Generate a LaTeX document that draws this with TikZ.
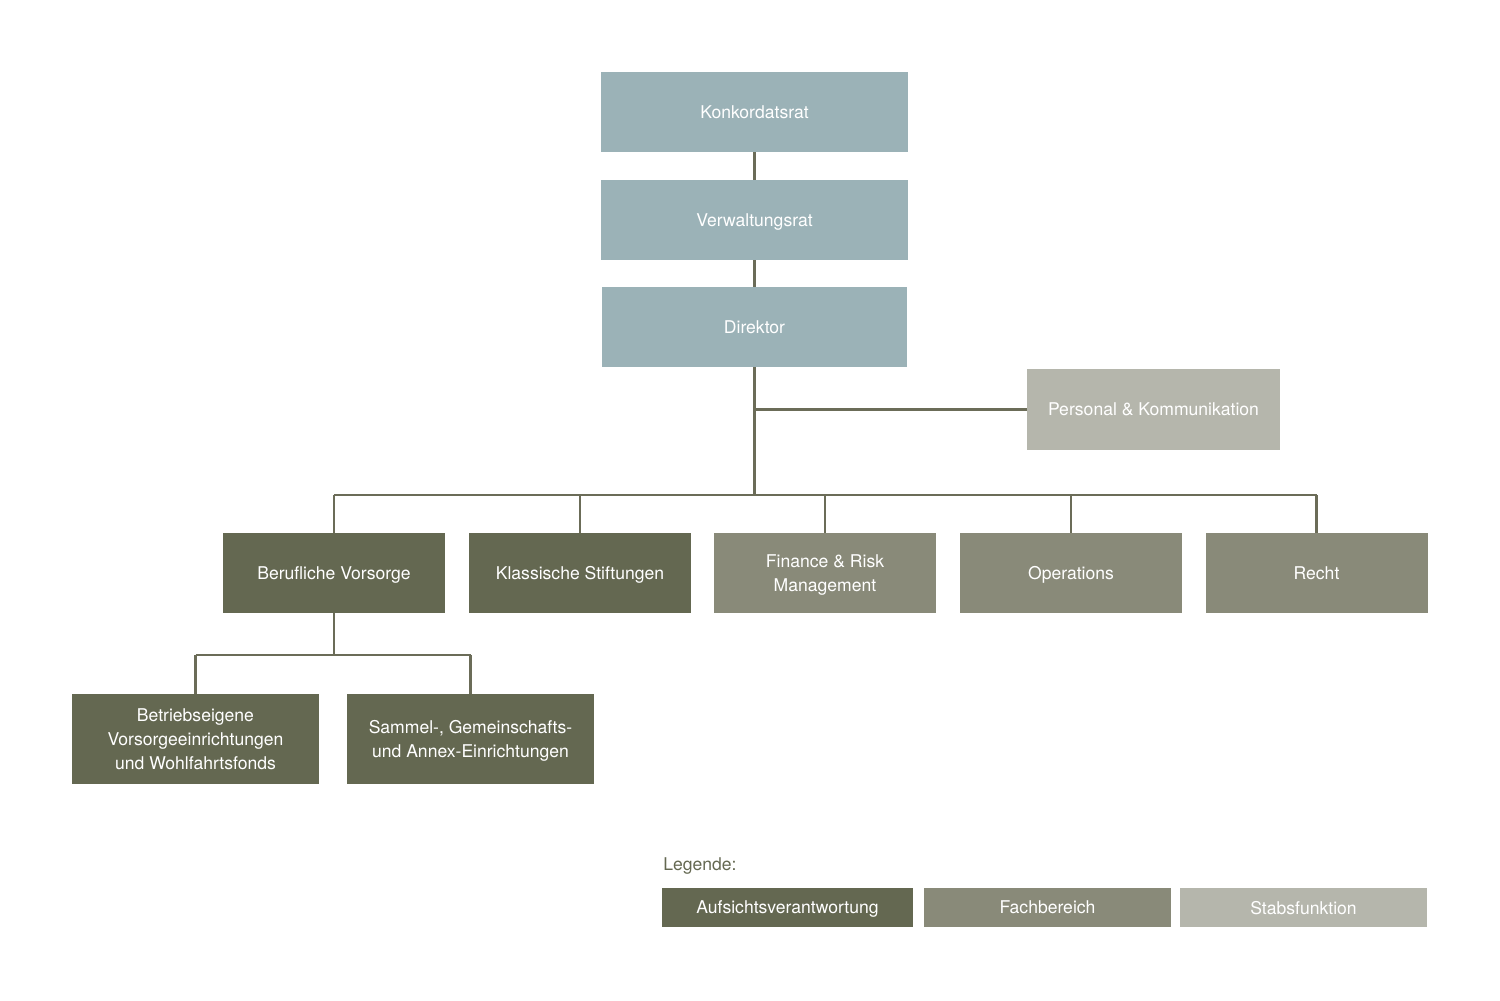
\documentclass[tikz,border=0pt]{standalone}
\usepackage{fontspec}
\setmainfont{TeX Gyre Heros}
\definecolor{rat}{HTML}{9BB2B7}
\definecolor{aufsicht}{HTML}{646851}
\definecolor{fach}{HTML}{898A79}
\definecolor{stab}{HTML}{B5B6AC}
\definecolor{linie}{HTML}{6B6C58}
\begin{document}
\begin{tikzpicture}[x=0.02cm,y=-0.02cm,
  box/.style={text=white, align=center, inner sep=0pt, text depth=0pt, font=\fontsize{10}{13.6}\selectfont},
  ratbox/.style={box, fill=rat, minimum width=6.14cm, minimum height=1.6cm},
  einheit/.style={box, minimum width=4.44cm, minimum height=1.6cm},
  unterbox/.style={box, fill=aufsicht, minimum width=4.94cm, minimum height=1.8cm},
  legbox/.style={box, minimum height=0.78cm},
  verbindung/.style={draw=linie, line width=1.25pt}]

\useasboundingbox (0,0) rectangle (1500,1000);

\node[ratbox] (konk) at (754.5,112) {Konkordatsrat};
\node[ratbox] (verw) at (754.5,220) {Verwaltungsrat};
\node[ratbox, minimum width=6.1cm] (dir) at (754.5,327) {Direktor};
\node[box, fill=stab, minimum width=5.06cm, minimum height=1.62cm] (pers) at (1153.5,409.5) {Personal \& Kommunikation};

\node[einheit, fill=aufsicht] (beruf) at (334,573) {Berufliche Vorsorge};
\node[einheit, fill=aufsicht] (klass) at (580,573) {Klassische Stiftungen};
\node[einheit, fill=fach] (finance) at (825,573) {Finance \& Risk\\Management};
\node[einheit, fill=fach] (oper) at (1071,573) {Operations};
\node[einheit, fill=fach] (recht) at (1316.5,573) {Recht};

\node[unterbox] (betrieb) at (195.5,739) {Betriebseigene\\Vorsorgeeinrichtungen\\und Wohlfahrtsfonds};
\node[unterbox] (sammel) at (470.5,739) {Sammel-, Gemeinschafts-\\und Annex-Einrichtungen};

\coordinate (bus) at (754.5,495);
\coordinate (sub) at (331,655);

\draw[verbindung] (konk) -- (verw);
\draw[verbindung] (verw) -- (dir);
\draw[verbindung] (dir.south) -- (bus);
\draw[verbindung] (dir.south |- pers) -- (pers.west);
\draw[verbindung] (bus -| beruf.north) -- (bus -| recht.north);
\foreach \n in {beruf,klass,finance,oper,recht}
  \draw[verbindung] (bus -| \n.north) -- (\n.north);
\draw[verbindung] (beruf.south) -- (beruf.south |- sub);
\draw[verbindung] (sub -| betrieb.north) -- (sub -| sammel.north);
\draw[verbindung] (sub -| betrieb.north) -- (betrieb.north);
\draw[verbindung] (sub -| sammel.north) -- (sammel.north);

% Legende
\node[anchor=west, inner sep=0pt, text=aufsicht, font=\fontsize{10}{12}\selectfont] (legende) at (663,866) {Legende:};
\node[legbox, fill=aufsicht, minimum width=5.02cm] (leg1) at (787.5,907.5) {Aufsichtsverantwortung};
\node[legbox, fill=fach, minimum width=4.94cm] (leg2) at (1047.5,907.5) {Fachbereich};
\node[legbox, fill=stab, minimum width=4.94cm] (leg3) at (1303.5,907.5) {Stabsfunktion};
\end{tikzpicture}
\end{document}
